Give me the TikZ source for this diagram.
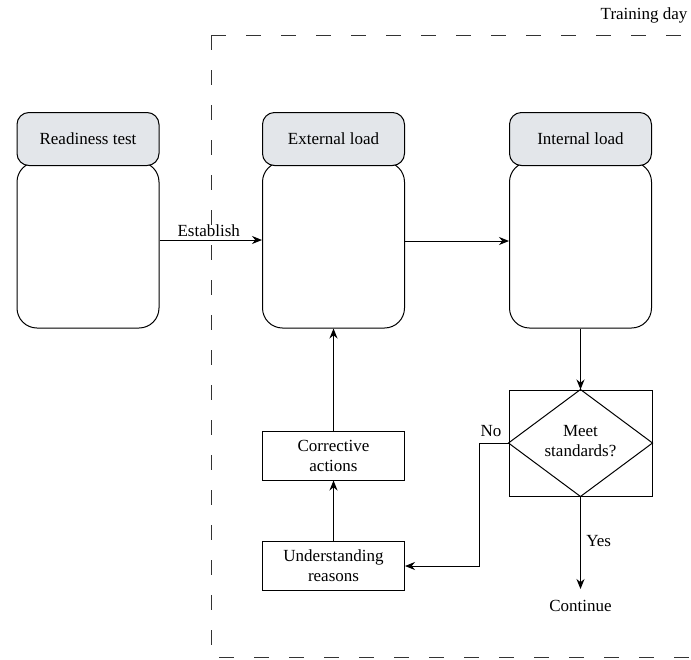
\documentclass[tikz,border=0pt]{standalone}
\usepackage{fontspec}
\setmainfont{Liberation Serif}
\usetikzlibrary{arrows.meta,shapes.geometric}
\definecolor{headfill}{HTML}{E3E6EA}
\definecolor{framegray}{HTML}{333333}
\tikzset{
  every node/.style={font=\rmfamily\fontsize{17}{20}\selectfont, text=black},
  headbox/.style={draw, line width=1pt, rounded corners=12pt, fill=headfill,
    minimum width=142pt, minimum height=53pt, inner sep=0pt},
  bodybox/.style={draw, line width=1pt, rounded corners=20pt, fill=white,
    minimum width=142pt, minimum height=166pt, inner sep=0pt},
  actbox/.style={draw, line width=1pt, minimum width=142pt, minimum height=49pt,
    inner sep=0pt, align=center},
  flow/.style={line width=1pt, -{Stealth[length=10pt,width=8pt]}},
  plain/.style={line width=1pt},
  frame/.style={line width=1pt, framegray, dash pattern=on 15pt off 20pt},
}
\begin{document}
\begin{tikzpicture}[x=1pt,y=-1pt]
\useasboundingbox (0,0) rectangle (691,659);

% training day frame
\draw[frame] (211,35) -- (760,35);
\draw[frame] (211,35) -- (211,657) -- (760,657);
\node[anchor=east] (day) at (691,15) {Training day};

% stages
\node[bodybox] (rbody) at (88,245) {};
\node[headbox] (rhead) at (88,139) {Readiness test};
\node[bodybox] (ebody) at (333.5,245) {};
\node[headbox] (ehead) at (333.5,139) {External load};
\node[bodybox] (ibody) at (580.5,245) {};
\node[headbox] (ihead) at (580.5,139) {Internal load};

% decision
\node[draw, line width=1pt, minimum width=143pt, minimum height=106pt, inner sep=0pt]
  (dbox) at (580.5,443) {};
\draw[plain] (dbox.north) -- (dbox.east) -- (dbox.south) -- (dbox.west) -- cycle;
\node[align=center] (dtext) at (580.5,441) {Meet\\standards?};
\node (cont) at (580.5,606) {Continue};
\coordinate (ctop) at (580.5,589);
\coordinate (nobend1) at (479,443);
\coordinate (nobend2) at (479,566);

% corrective loop
\node[actbox] (corr) at (333.5,455.5) {Corrective\\actions};
\node[actbox] (und) at (333.5,566) {Understanding\\reasons};

% connectors
\draw[flow] ([yshift=5pt]rbody.east) -- node[above, pos=0.48] (est) {Establish} ([yshift=5pt]ebody.west);
\draw[flow] ([yshift=4pt]ebody.east) -- ([yshift=4pt]ibody.west);
\draw[flow] (ibody.south) -- (dbox.north);
\draw[flow] (dbox.south) -- node[right, pos=0.48, xshift=2pt] (yes) {Yes} (ctop);
\draw[flow] (dbox.west) -- (nobend1) -- (nobend2) -- (und.east);
\node (no) at (491,431) {No};
\draw[flow] (und.north) -- (corr.south);
\draw[flow] (corr.north) -- (ebody.south);
\end{tikzpicture}
\end{document}
